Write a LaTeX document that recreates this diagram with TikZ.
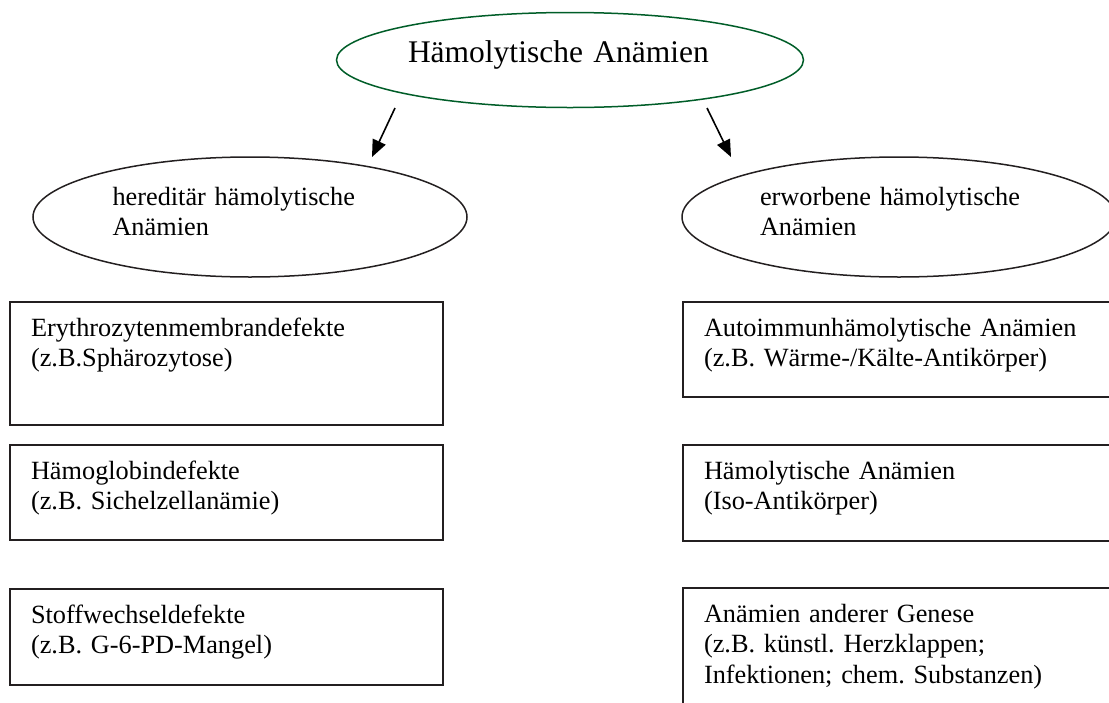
\documentclass[tikz,border=0pt]{standalone}
\usepackage{fontspec}
\setmainfont{Liberation Serif}
\frenchspacing
\newcommand*{\boxfont}{\fontsize{26.3}{30.6}\selectfont}
\newcommand*{\titlefont}{\fontsize{31.5}{36}\selectfont}
\definecolor{ovalgreen}{cmyk}{1.00,0.00,1.00,0.50}
\definecolor{framegrey}{cmyk}{0.00,0.00,0.00,1.00}
\usepackage{tikz}
\usetikzlibrary{arrows.meta}
\usetikzlibrary{shapes.geometric}
\tikzstyle{base}=[x=1pt, y=-1pt, inner sep=0pt, outer sep=0pt]
\tikzstyle{oval}=[ellipse, draw=framegrey, line width=1.5pt, align=left, font=\boxfont, minimum width=434pt, minimum height=120pt, text height=24pt, text depth=48pt]
\tikzstyle{topoval}=[ellipse, draw=ovalgreen, line width=1.5pt, align=left, font=\titlefont, minimum width=467pt, minimum height=95pt, text width=324pt, text height=27pt, text depth=22pt]
\tikzstyle{box}=[draw=framegrey, line width=2.3pt, anchor=north west, inner xsep=21pt, inner ysep=0pt, text width=391pt, text height=34pt, align=left, font=\boxfont]
\tikzstyle{pointer}=[line width=1.6pt, -{Triangle[length=17pt, width=14pt]}]

\begin{document}
\begin{tikzpicture}[base]
    \useasboundingbox (0,0) rectangle (1109,702);
        \node [topoval] (title) at (570,60) {Hämolytische Anämien};
        \node [oval, text width=275pt] (hered) at (250,217) {hereditär hämolytische\\Anämien};
        \node [oval, text width=278pt] (acq) at (899,217) {erworbene hämolytische\\Anämien};
        \coordinate (heredfrom) at (395,108);
        \coordinate (heredto) at (372,157);
        \coordinate (acqfrom) at (707,108);
        \coordinate (acqto) at (731,157);
        \draw [pointer] (heredfrom) -- (heredto);
        \draw [pointer] (acqfrom) -- (acqto);
        \node [box, text depth=89pt] (ery) at (10,302) {Erythrozytenmembrandefekte\\(z.B.Sphärozytose)};
        \node [box, text depth=61pt] (hgb) at (10,445) {Hämoglobindefekte\\(z.B. Sichelzellanämie)};
        \node [box, text depth=62pt] (stw) at (10,589) {Stoffwechseldefekte\\(z.B. G-6-PD-Mangel)};
        \node [box, text depth=61pt] (aiha) at (683,302) {Autoimmunhämolytische Anämien\\(z.B. Wärme-/Kälte-Antikörper)};
        \node [box, text depth=62pt] (iso) at (683,445) {Hämolytische Anämien\\(Iso-Antikörper)};
        \node [box, text depth=96pt] (misc) at (683,588) {Anämien anderer Genese\\(z.B. künstl. Herzklappen;\\Infektionen; chem. Substanzen)};
    \end{tikzpicture}
\end{document}
